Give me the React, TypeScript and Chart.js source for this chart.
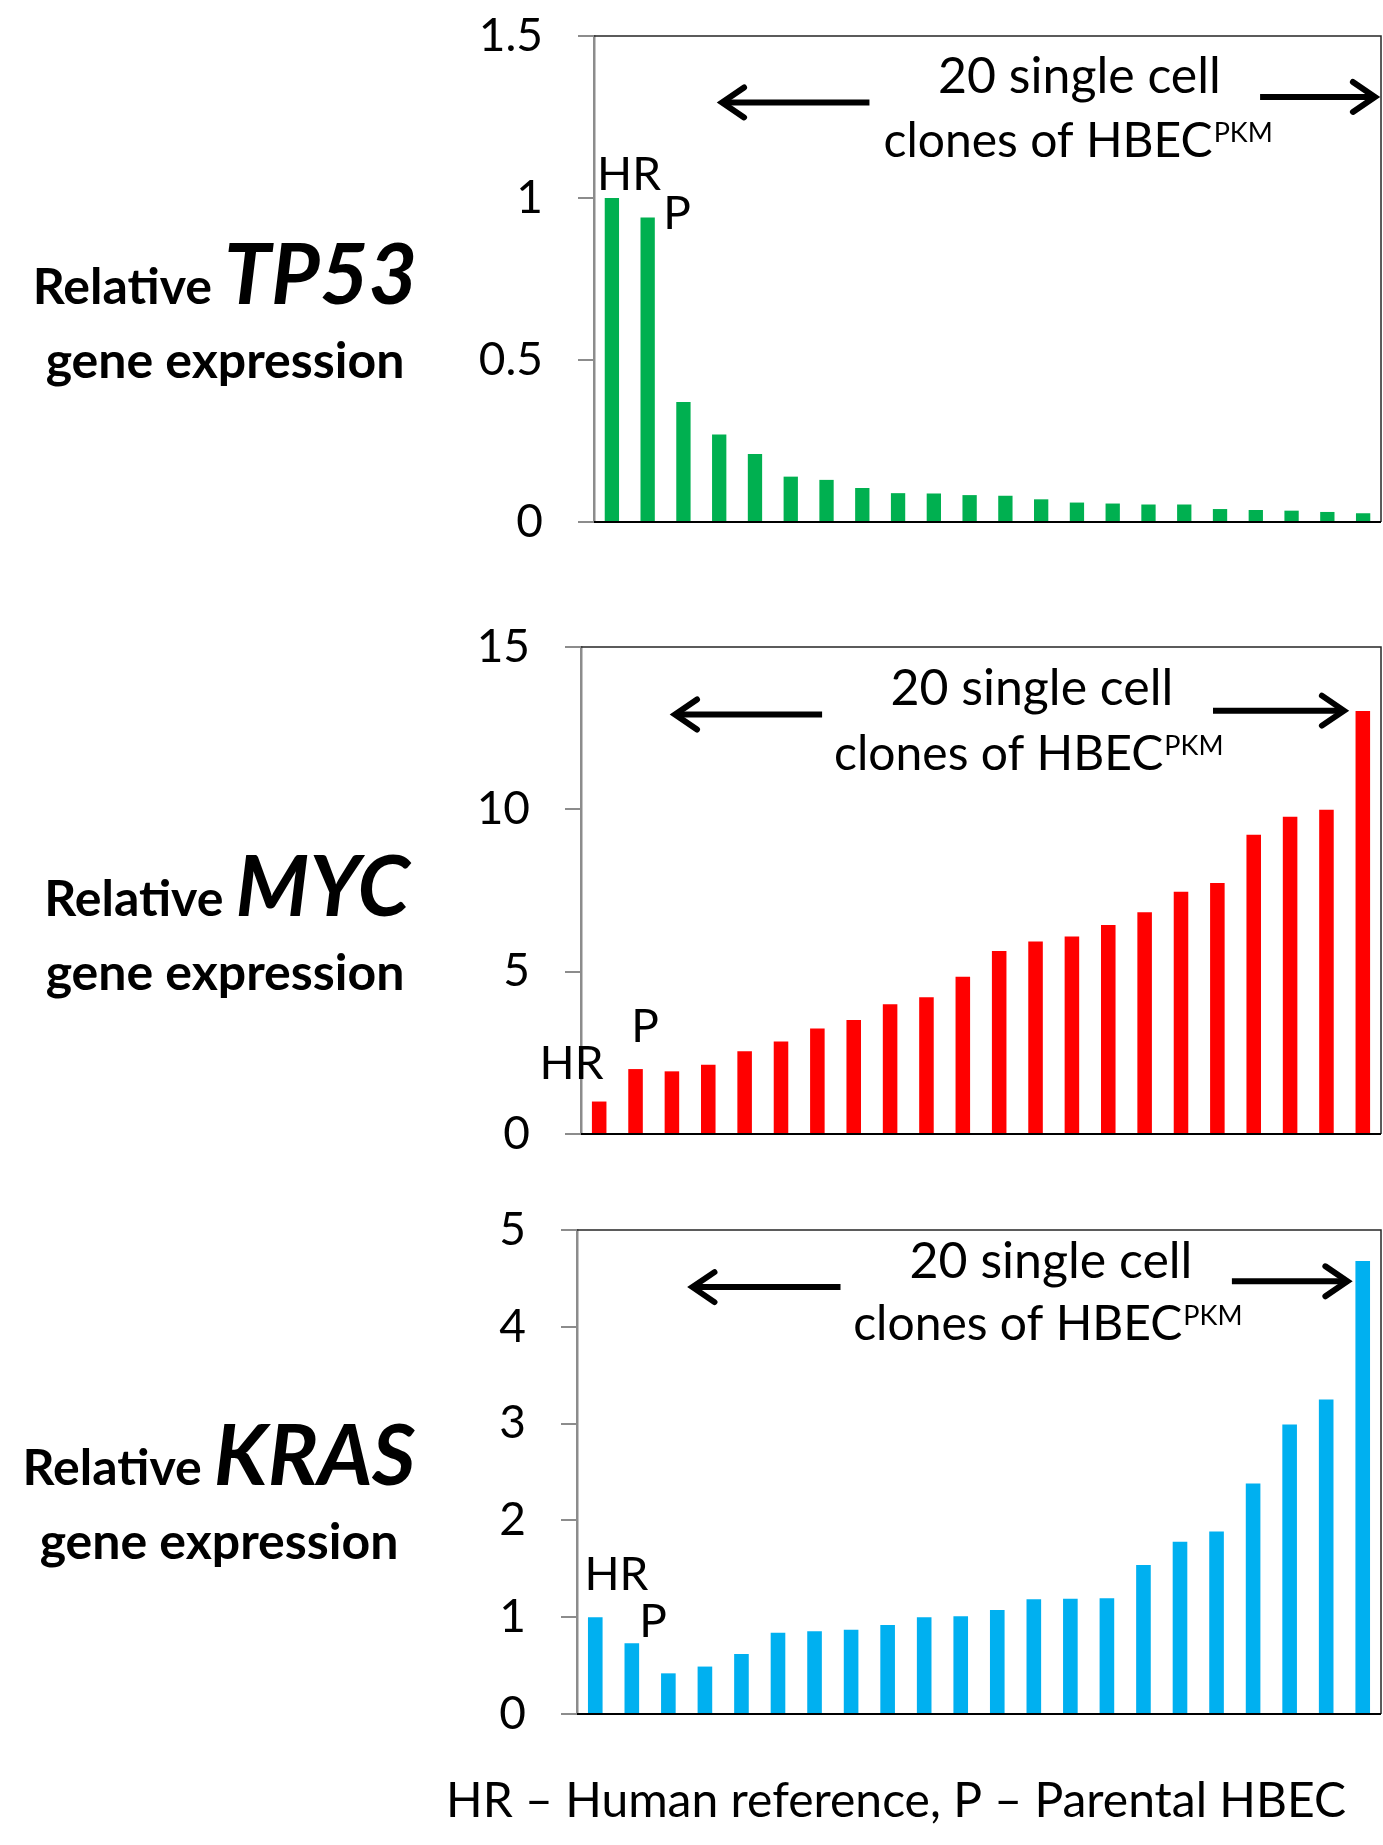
import React, { useEffect, useRef } from "react";
import { Chart, registerables } from "chart.js";

Chart.register(...registerables);

// ---------- data ----------
const categories = [
  "HR", "P",
  "C1", "C2", "C3", "C4", "C5", "C6", "C7", "C8", "C9", "C10",
  "C11", "C12", "C13", "C14", "C15", "C16", "C17", "C18", "C19", "C20",
];
const tp53Values = [1.0, 0.94, 0.37, 0.27, 0.21, 0.14, 0.13, 0.105, 0.089, 0.088, 0.083, 0.081, 0.07, 0.06, 0.057, 0.054, 0.054, 0.04, 0.037, 0.035, 0.031, 0.027];
const mycValues = [1.0, 2.0, 1.93, 2.13, 2.55, 2.85, 3.25, 3.51, 4.0, 4.21, 4.84, 5.64, 5.93, 6.08, 6.44, 6.83, 7.46, 7.73, 9.22, 9.77, 9.99, 13.03];
const krasValues = [1.0, 0.73, 0.42, 0.49, 0.62, 0.84, 0.855, 0.87, 0.92, 1.0, 1.01, 1.075, 1.185, 1.19, 1.195, 1.54, 1.78, 1.885, 2.38, 2.99, 3.25, 4.68];
const tp53Axis = { max: 1.5, step: 0.5 };
const mycAxis = { max: 15, step: 5 };
const krasAxis = { max: 5, step: 1 };
const geneNames = ["TP53", "MYC", "KRAS"];
const cloneText = ["20 single cell", "clones of HBEC", "PKM"];
const labelHR = "HR";
const labelP = "P";
const captionText = "HR \u2013 Human reference, P \u2013 Parental HBEC";

const FONT = "Lato";
const W = 1383;
const TICK_MARK = 16;
const LABEL_GAP = 51;

// ---------- overlay plugin (frame, tick marks, annotations, titles) ----------
const overlayPlugin = {
  id: "overlay",
  afterDraw(chart: any, _args: any, opts: any) {
    const { ctx, chartArea: a, scales } = chart;
    const xs = scales.x;
    const ys = scales.y;
    const px = (v: number) => xs.getPixelForValue(v);
    const py = (v: number) => ys.getPixelForValue(v);
    ctx.save();

    // y tick marks
    ctx.strokeStyle = "#8c8c8c";
    ctx.lineWidth = 2;
    ctx.lineCap = "butt";
    ys.ticks.forEach((t: any) => {
      const Y = Math.round(py(t.value));
      ctx.beginPath();
      ctx.moveTo(a.left - TICK_MARK, Y);
      ctx.lineTo(a.left, Y);
      ctx.stroke();
    });

    // frame
    ctx.strokeStyle = "#262626";
    ctx.lineWidth = 1.5;
    ctx.beginPath();
    ctx.moveTo(a.left, a.top);
    ctx.lineTo(a.right, a.top);
    ctx.lineTo(a.right, a.bottom);
    ctx.stroke();
    ctx.strokeStyle = "#000";
    ctx.lineWidth = 2;
    ctx.beginPath();
    ctx.moveTo(a.left, a.bottom);
    ctx.lineTo(a.right, a.bottom);
    ctx.stroke();

    ctx.fillStyle = "#000";
    ctx.textBaseline = "alphabetic";

    // clone text
    const an = opts.ann;
    ctx.font = `50px ${FONT}`;
    ctx.textAlign = "center";
    ctx.fillText(cloneText[0], px(an.t1[0]), py(an.t1[1]));
    ctx.font = `48px ${FONT}`;
    const mainW = ctx.measureText(cloneText[1]).width;
    ctx.font = `27px ${FONT}`;
    const supW = ctx.measureText(cloneText[2]).width;
    const x0 = px(an.t2[0]) - (mainW + supW) / 2;
    const b2 = py(an.t2[1]);
    ctx.textAlign = "left";
    ctx.font = `48px ${FONT}`;
    ctx.fillText(cloneText[1], x0, b2);
    ctx.font = `27px ${FONT}`;
    ctx.fillText(cloneText[2], x0 + mainW + 1, b2 - 15);

    // arrows
    const arrow = (xa: number, xb: number, yv: number, dir: number) => {
      const X1 = px(xa), X2 = px(xb), Y = py(yv);
      ctx.strokeStyle = "#000";
      ctx.lineWidth = 6;
      ctx.lineCap = "butt";
      ctx.beginPath();
      ctx.moveTo(X1, Y);
      ctx.lineTo(X2, Y);
      ctx.stroke();
      const tip = dir < 0 ? X1 : X2;
      ctx.lineCap = "round";
      ctx.lineJoin = "miter";
      ctx.beginPath();
      ctx.moveTo(tip - dir * 22, Y - 15);
      ctx.lineTo(tip, Y);
      ctx.lineTo(tip - dir * 22, Y + 15);
      ctx.stroke();
    };
    arrow(an.la[0], an.la[1], an.la[2], -1);
    arrow(an.ra[0], an.ra[1], an.ra[2], 1);

    // HR / P labels
    ctx.font = `46px ${FONT}`;
    ctx.textAlign = "center";
    ctx.fillText(labelHR, px(an.hr[0]), py(an.hr[1]));
    ctx.fillText(labelP, px(an.p[0]), py(an.p[1]));

    // side title (positions in canvas pixels)
    const t = opts.title;
    ctx.font = `bold 50px ${FONT}`;
    const relW = ctx.measureText("Relative ").width;
    ctx.font = `italic bold 84px ${FONT}`;
    const geneW = ctx.measureText(t.gene).width;
    const sx = t.cx - (relW + geneW) / 2;
    ctx.textAlign = "left";
    ctx.font = `bold 50px ${FONT}`;
    ctx.fillText("Relative ", sx, t.b1);
    ctx.font = `italic bold 84px ${FONT}`;
    ctx.fillText(t.gene, sx + relW, t.b1);
    ctx.font = `bold 50px ${FONT}`;
    ctx.textAlign = "center";
    ctx.fillText("gene expression", t.cx2, t.b2);

    // caption
    if (opts.caption) {
      ctx.font = `48px ${FONT}`;
      ctx.textAlign = "center";
      ctx.fillText(captionText, opts.caption.cx, opts.caption.b);
    }
    ctx.restore();
  },
};

type PanelCfg = {
  top: number;
  height: number;
  area: { left: number; top: number; right: number; bottom: number };
  values: number[];
  color: string;
  axis: { max: number; step: number };
  ann: any;
  title: any;
  caption?: any;
};

const Y_AXIS_W = 130;

function BarPanel({ cfg }: { cfg: PanelCfg }) {
  const ref = useRef<HTMLCanvasElement | null>(null);
  useEffect(() => {
    if (!ref.current) return;
    const chart = new Chart(ref.current, {
      type: "bar",
      data: {
        labels: categories,
        datasets: [
          {
            data: cfg.values,
            backgroundColor: cfg.color,
            borderWidth: 0,
            barPercentage: 0.4,
            categoryPercentage: 1,
          },
        ],
      },
      options: {
        responsive: false,
        animation: false,
        devicePixelRatio: 1,
        layout: {
          padding: {
            left: cfg.area.left - Y_AXIS_W,
            top: cfg.area.top - cfg.top,
            right: W - cfg.area.right,
            bottom: cfg.top + cfg.height - cfg.area.bottom,
          },
        },
        plugins: {
          legend: { display: false },
          tooltip: { enabled: false },
          title: { display: false },
          overlay: { ann: cfg.ann, title: cfg.title, caption: cfg.caption },
        } as any,
        scales: {
          x: { display: false, offset: true, grid: { display: false } },
          y: {
            min: 0,
            max: cfg.axis.max,
            afterFit: (s: any) => {
              s.width = Y_AXIS_W;
            },
            ticks: {
              stepSize: cfg.axis.step,
              color: "#000",
              padding: 0,
              font: { family: FONT, size: 46 },
              callback: (v: any) => String(Number(v)),
            },
            grid: {
              drawOnChartArea: false,
              drawTicks: true,
              tickLength: LABEL_GAP,
              color: "#8c8c8c",
              tickColor: "rgba(0,0,0,0)",
              lineWidth: 2,
            },
            border: { display: true, color: "#8c8c8c", width: 2.5 },
          },
        },
      },
      plugins: [overlayPlugin],
    });
    return () => chart.destroy();
  }, []);
  return (
    <canvas
      ref={ref}
      width={W}
      height={cfg.height}
      style={{ position: "absolute", left: 0, top: cfg.top, width: W, height: cfg.height }}
    />
  );
}

const panels: PanelCfg[] = [
  {
    top: 0,
    height: 560,
    area: { left: 594, top: 36, right: 1381, bottom: 522 },
    values: tp53Values,
    color: "#00B050",
    axis: tp53Axis,
    ann: {
      t1: [13.07, 1.324],
      t2: [13.02, 1.127],
      la: [3.08, 7.2, 1.295],
      ra: [18.12, 21.33, 1.312],
      hr: [0.48, 1.026],
      p: [1.82, 0.904],
    },
    title: { gene: geneNames[0], cx: 225, b1: 304, cx2: 225, b2: 378 },
  },
  {
    top: 600,
    height: 570,
    area: { left: 581, top: 647, right: 1381, bottom: 1134 },
    values: mycValues,
    color: "#FF0000",
    axis: mycAxis,
    ann: {
      t1: [11.9, 13.2],
      t2: [11.8, 11.21],
      la: [2.085, 6.13, 12.92],
      ra: [16.88, 20.48, 13.04],
      hr: [-0.76, 1.69],
      p: [1.26, 2.83],
    },
    title: { gene: geneNames[1], cx: 227, b1: 316, cx2: 225, b2: 390 },
  },
  {
    top: 1200,
    height: 645,
    area: { left: 577, top: 1230, right: 1381, bottom: 1714 },
    values: krasValues,
    color: "#00B0F0",
    axis: krasAxis,
    ann: {
      t1: [12.47, 4.5],
      t2: [12.37, 3.86],
      la: [2.66, 6.71, 4.41],
      ra: [17.42, 20.58, 4.47],
      hr: [0.58, 1.28],
      p: [1.58, 0.8],
    },
    title: { gene: geneNames[2], cx: 219, b1: 285, cx2: 219, b2: 359 },
    caption: { cx: 896, b: 617 },
  },
];

export default function App() {
  return (
    <div
      style={{
        position: "absolute",
        left: 0,
        top: 0,
        width: W,
        height: 1845,
        background: "#fff",
        overflow: "hidden",
      }}
    >
      {panels.map((p, i) => (
        <BarPanel key={i} cfg={p} />
      ))}
    </div>
  );
}
